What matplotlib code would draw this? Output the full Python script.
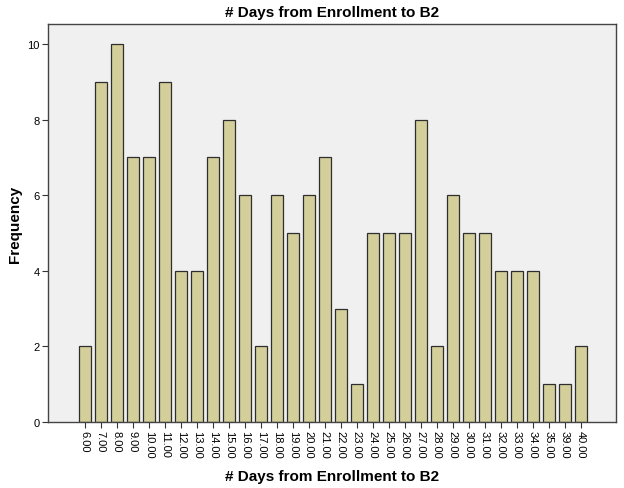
import matplotlib
matplotlib.use("Agg")
import matplotlib.pyplot as plt

# Days from enrollment to B2 (category labels) and frequencies
days = ["6.00", "7.00", "8.00", "9.00", "10.00", "11.00", "12.00", "13.00",
        "14.00", "15.00", "16.00", "17.00", "18.00", "19.00", "20.00", "21.00",
        "22.00", "23.00", "24.00", "25.00", "26.00", "27.00", "28.00", "29.00",
        "30.00", "31.00", "32.00", "33.00", "34.00", "35.00", "39.00", "40.00"]
freq = [2, 9, 10, 7, 7, 9, 4, 4, 7, 8, 6, 2, 6, 5, 6, 7,
        3, 1, 5, 5, 5, 8, 2, 6, 5, 5, 4, 4, 4, 1, 1, 2]

plt.rcParams['font.family'] = ['Liberation Sans', 'DejaVu Sans']

fig = plt.figure(figsize=(6.24, 4.89), dpi=100)
ax = fig.add_axes([48 / 624, 1 - 423 / 489, (616 - 48) / 624, (423 - 25) / 489])
ax.set_facecolor("#f0f0f0")

x = list(range(len(days)))
ax.bar(x, freq, width=0.75, color="#d4cf9a", edgecolor="#2e2e2e", linewidth=0.9, zorder=2)

ax.set_xlim(-2.3, 33.2)
ax.set_ylim(0, 10.53)
ax.set_yticks([0, 2, 4, 6, 8, 10])
ax.set_yticklabels(["0", "2", "4", "6", "8", "10"], fontsize=8)
ax.set_xticks(x)
ax.set_xticklabels(days, rotation=-90, fontsize=8)
ax.tick_params(axis="both", length=4, width=0.8, color="#333333", pad=2)

for s in ax.spines.values():
    s.set_color("#444444")
    s.set_linewidth(1.0)

ax.set_title("# Days from Enrollment to B2", fontsize=11, fontweight="bold", pad=6)
ax.set_xlabel("# Days from Enrollment to B2", fontsize=11, fontweight="bold", labelpad=8)
ax.set_ylabel("Frequency", fontsize=11, fontweight="bold", labelpad=4)

fig.savefig("out.png", dpi=100)
